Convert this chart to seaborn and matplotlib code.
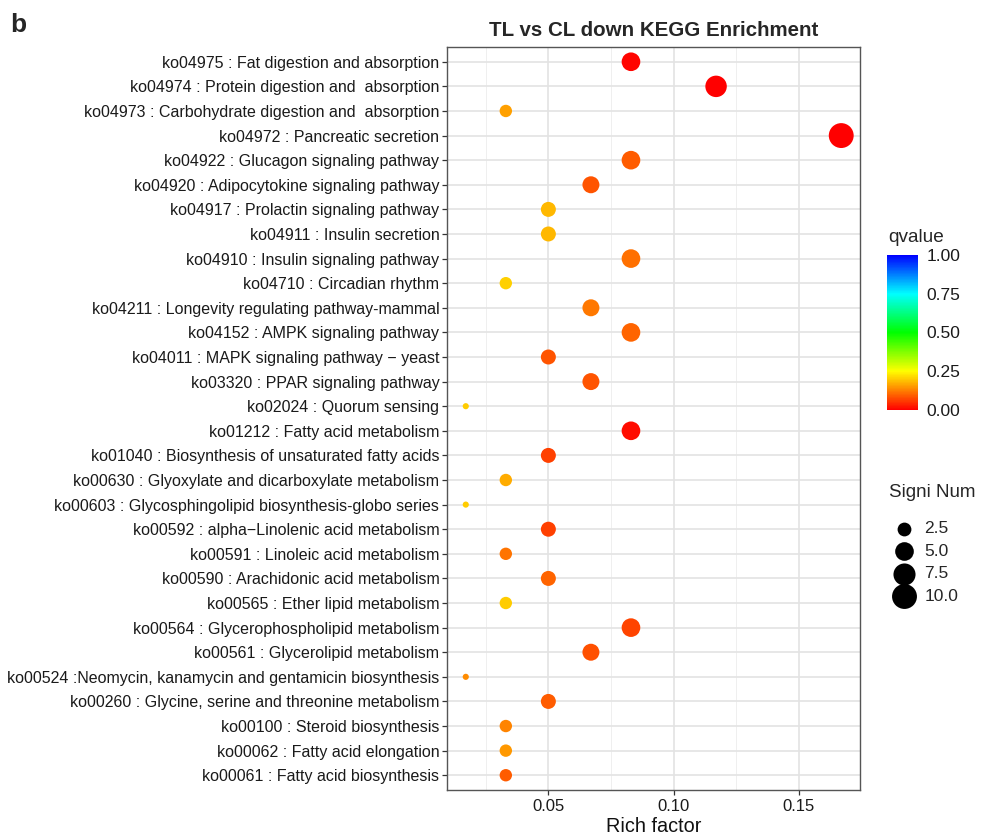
import numpy as np
import pandas as pd
import matplotlib
matplotlib.use("Agg")
import matplotlib.pyplot as plt
from matplotlib.colors import LinearSegmentedColormap, Normalize
from matplotlib.cm import ScalarMappable
import seaborn as sns

# KEGG pathways, listed top to bottom
pathways = [
    "ko04975 : Fat digestion and absorption",
    "ko04974 : Protein digestion and  absorption",
    "ko04973 : Carbohydrate digestion and  absorption",
    "ko04972 : Pancreatic secretion",
    "ko04922 : Glucagon signaling pathway",
    "ko04920 : Adipocytokine signaling pathway",
    "ko04917 : Prolactin signaling pathway",
    "ko04911 : Insulin secretion",
    "ko04910 : Insulin signaling pathway",
    "ko04710 : Circadian rhythm",
    "ko04211 : Longevity regulating pathway-mammal",
    "ko04152 : AMPK signaling pathway",
    "ko04011 : MAPK signaling pathway \u2212 yeast",
    "ko03320 : PPAR signaling pathway",
    "ko02024 : Quorum sensing",
    "ko01212 : Fatty acid metabolism",
    "ko01040 : Biosynthesis of unsaturated fatty acids",
    "ko00630 : Glyoxylate and dicarboxylate metabolism",
    "ko00603 : Glycosphingolipid biosynthesis-globo series",
    "ko00592 : alpha\u2212Linolenic acid metabolism",
    "ko00591 : Linoleic acid metabolism",
    "ko00590 : Arachidonic acid metabolism",
    "ko00565 : Ether lipid metabolism",
    "ko00564 : Glycerophospholipid metabolism",
    "ko00561 : Glycerolipid metabolism",
    "ko00524 :Neomycin, kanamycin and gentamicin biosynthesis",
    "ko00260 : Glycine, serine and threonine metabolism",
    "ko00100 : Steroid biosynthesis",
    "ko00062 : Fatty acid elongation",
    "ko00061 : Fatty acid biosynthesis",
]

rich_factor = [
    0.083, 0.117, 0.033, 0.167, 0.083, 0.067, 0.050, 0.050, 0.083, 0.033,
    0.067, 0.083, 0.050, 0.067, 0.017, 0.083, 0.050, 0.033, 0.017, 0.050,
    0.033, 0.050, 0.033, 0.083, 0.067, 0.017, 0.050, 0.033, 0.033, 0.033,
]

signi_num = [
    5, 7, 2, 10, 5, 4, 3, 3, 5, 2,
    4, 5, 3, 4, 1, 5, 3, 2, 1, 3,
    2, 3, 2, 5, 4, 1, 3, 2, 2, 2,
]

qvalue = [
    0.005, 0.003, 0.160, 0.001, 0.090, 0.085, 0.180, 0.180, 0.110, 0.205,
    0.120, 0.100, 0.085, 0.085, 0.200, 0.015, 0.065, 0.170, 0.200, 0.065,
    0.115, 0.100, 0.200, 0.070, 0.080, 0.140, 0.090, 0.130, 0.150, 0.090,
]

size_breaks = [2.5, 5.0, 7.5, 10.0]
q_ticks = [0.00, 0.25, 0.50, 0.75, 1.00]

sns.set_theme(style="white")
plt.rcParams["font.family"] = ["Liberation Sans", "DejaVu Sans"]

df = pd.DataFrame({"pathway": pathways, "rich": rich_factor,
                   "num": signi_num, "q": qvalue})
df["pathway"] = pd.Categorical(df["pathway"], categories=pathways, ordered=True)

cmap = LinearSegmentedColormap.from_list(
    "qv", ["#FF0000", "#FFFF00", "#00FF00", "#00FFFF", "#0000FF"])
norm = Normalize(0, 1)

n_min, n_max = min(signi_num), max(signi_num)


def point_area(v):
    # area-style size scale: diameter grows with sqrt of the rescaled count
    d_px = 2.4 + 3.75 * (1 + 5 * np.sqrt((v - n_min) / (n_max - n_min)))
    return (d_px * 0.72) ** 2


fig = plt.figure(figsize=(9.81, 8.35), dpi=100)
ax = fig.add_axes([447 / 981, 1 - 790 / 835, 413 / 981, 743 / 835])

sns.scatterplot(data=df, x="rich", y="pathway", hue="q", palette=cmap,
                hue_norm=norm, size="num",
                sizes={v: point_area(v) for v in set(signi_num)},
                linewidth=0, legend=False, ax=ax, zorder=3)

lo, hi = min(rich_factor), max(rich_factor)
pad = 0.05 * (hi - lo)
ax.set_xlim(lo - pad, hi + pad)
ax.set_ylim(len(pathways) - 0.4, -0.6)

ax.set_xticks([0.05, 0.10, 0.15])
ax.set_xticklabels(["0.05", "0.10", "0.15"])
ax.set_xticks([0.025, 0.075, 0.125], minor=True)
ax.set_yticks(range(len(pathways)))
ax.set_yticklabels(pathways)

ax.grid(which="major", color="#E3E3E3", lw=1.2, zorder=0)
ax.grid(which="minor", axis="x", color="#EFEFEF", lw=0.7, zorder=0)
ax.set_axisbelow(True)
for sp in ax.spines.values():
    sp.set_color("#555555")
    sp.set_linewidth(1.0)

ax.tick_params(which="major", length=3.5, width=0.9, color="#333333",
               labelcolor="#1A1A1A", pad=2, left=True, bottom=True)
ax.tick_params(axis="y", labelsize=11.5)
ax.tick_params(axis="x", labelsize=12, pad=3)
ax.tick_params(which="minor", length=0)

ax.set_xlabel("Rich factor", fontsize=14.3, color="#111111", labelpad=2)
ax.set_ylabel("")
ax.set_title("TL vs CL down KEGG Enrichment", fontsize=14.8,
             fontweight="bold", pad=8)

fig.text(10 / 981, 1 - 25 / 835, "b", fontsize=19, fontweight="bold",
         ha="left", va="center")

# colour bar for q-values
cax = fig.add_axes([887 / 981, 1 - 410 / 835, 31 / 981, 155 / 835])
cb = fig.colorbar(ScalarMappable(norm=norm, cmap=cmap), cax=cax,
                  ticks=q_ticks)
cb.outline.set_visible(False)
cax.set_yticklabels([f"{t:.2f}" for t in q_ticks])
cax.tick_params(length=6, width=0.8, color="white", direction="in",
                labelsize=12.5, labelcolor="#1A1A1A", pad=6,
                left=True, right=True)
fig.text(888 / 981, 1 - 238 / 835, "qvalue", fontsize=13.7,
         ha="left", va="center")

# size legend for significant gene counts
fig.text(889 / 981, 1 - 493 / 835, "Signi Num", fontsize=13.5,
         ha="left", va="center")
handles = [ax.scatter([], [], s=point_area(v), color="black", linewidth=0)
           for v in size_breaks]
leg = fig.legend(handles, [f"{v:.1f}" for v in size_breaks],
                 loc="upper left",
                 bbox_to_anchor=(880 / 981, 1 - 509 / 835),
                 frameon=False, fontsize=12.5, handlelength=1.4,
                 labelspacing=0.42, handletextpad=0.45, borderpad=0.2)

fig.savefig("out.png", dpi=100)
